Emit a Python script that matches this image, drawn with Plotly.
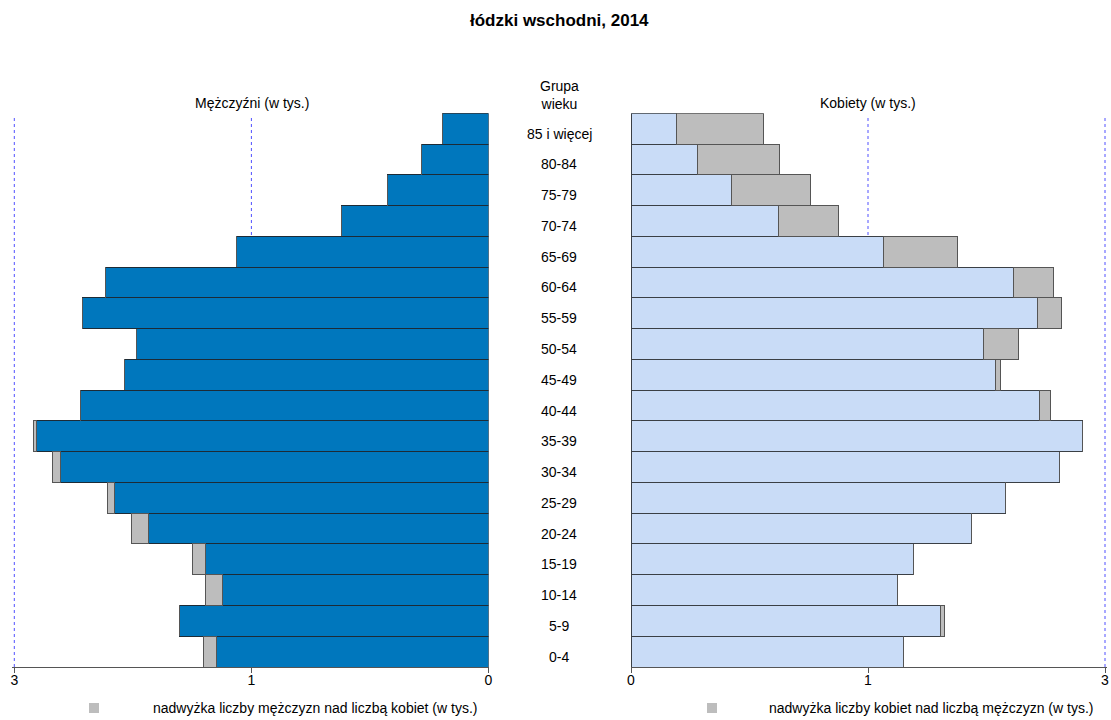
import plotly.graph_objects as go

title_text = "łódzki wschodni, 2014"
age_groups = ["0-4", "5-9", "10-14", "15-19", "20-24", "25-29", "30-34", "35-39",
              "40-44", "45-49", "50-54", "55-59", "60-64", "65-69", "70-74",
              "75-79", "80-84", "85 i więcej"]
# thousands of persons
male = [1.805, 1.956, 1.789, 1.873, 2.260, 2.409, 2.760, 2.880, 2.583, 2.306,
        2.229, 2.571, 2.423, 1.595, 0.932, 0.637, 0.423, 0.289]
female = [1.722, 1.984, 1.685, 1.788, 2.152, 2.369, 2.710, 2.860, 2.658, 2.337,
          2.451, 2.726, 2.677, 2.068, 1.315, 1.139, 0.943, 0.837]
tick_vals = [3, 1.5, 0]
tick_text = ["3", "1", "0"]
grid_vals = [3, 1.5]
legend_male = "nadwyżka liczby mężczyzn nad liczbą kobiet (w tys.)"
legend_female = "nadwyżka liczby kobiet nad liczbą mężczyzn (w tys.)"

common = [min(m, f) for m, f in zip(male, female)]
male_excess = [max(m - f, 0) for m, f in zip(male, female)]
female_excess = [max(f - m, 0) for m, f in zip(male, female)]

BLUE = "#0077bd"
LIGHT = "#c9dcf7"
GRAY = "#bdbdbd"
FONT = "Liberation Sans, Arial, sans-serif"
OFF = 0  # page body margin is removed below
W, H = 1111, 720
PXU = 158.0            # pixels per thousand
PAD = 2.0              # small extra room past the last tick (px)
XMAX = 3 + PAD / PXU


def px(x):
    return (x - OFF) / W


def py(y):
    return 1 - (y - OFF) / H


fig = go.Figure()
fig.add_trace(go.Bar(y=age_groups, x=common, orientation="h", xaxis="x", yaxis="y",
                     marker=dict(color=BLUE, line=dict(color="#1d2b36", width=1)),
                     showlegend=False, name="Mężczyźni"))
fig.add_trace(go.Bar(y=age_groups, x=male_excess, orientation="h", xaxis="x", yaxis="y",
                     marker=dict(color=GRAY, line=dict(color="#555555", width=1)),
                     name=legend_male, showlegend=False))
fig.add_trace(go.Bar(y=age_groups, x=common, orientation="h", xaxis="x2", yaxis="y2",
                     marker=dict(color=LIGHT, line=dict(color="#3a3f45", width=1)),
                     showlegend=False, name="Kobiety"))
fig.add_trace(go.Bar(y=age_groups, x=female_excess, orientation="h", xaxis="x2", yaxis="y2",
                     marker=dict(color=GRAY, line=dict(color="#555555", width=1)),
                     name=legend_female, showlegend=False))

ydom = [py(667), py(113.3)]
axis_common = dict(tickvals=tick_vals, ticktext=tick_text, showgrid=False,
                   zeroline=False, automargin=False,
                   showline=True, linecolor="#555555", linewidth=1,
                   ticks="outside", ticklen=5, tickcolor="#555555",
                   ticklabelstandoff=-5,
                   tickfont=dict(size=14, color="#000000", family=FONT),
                   fixedrange=True)
fig.update_layout(
    width=W, height=H, autosize=False,
    margin=dict(l=0, r=0, t=0, b=0, pad=0),
    paper_bgcolor="white", plot_bgcolor="white",
    barmode="stack", bargap=0, showlegend=False,
    font=dict(family=FONT, size=14, color="#000000"),
    xaxis=dict(domain=[px(14.3 - PAD), px(488.5)], range=[XMAX, 0], anchor="y",
               **axis_common),
    xaxis2=dict(domain=[px(631), px(1105 + PAD)], range=[0, XMAX], anchor="y2",
                **axis_common),
    yaxis=dict(domain=ydom, showticklabels=False, showgrid=False, zeroline=False,
               showline=False, ticks="", anchor="x", automargin=False),
    yaxis2=dict(domain=ydom, showticklabels=False, showgrid=False, zeroline=False,
                showline=False, ticks="", anchor="x2", matches="y", automargin=False),
)

shapes = []
for xr in ["x", "x2"]:
    for gv in grid_vals:
        shapes.append(dict(type="line", xref=xr, yref="paper", x0=gv, x1=gv,
                           y0=ydom[0], y1=py(116), layer="below",
                           line=dict(color="#5050ff", width=1, dash="dot")))
# legend swatches
for cx in [94, 712]:
    shapes.append(dict(type="rect", xref="paper", yref="paper",
                       x0=px(cx - 5), x1=px(cx + 5),
                       y0=py(713), y1=py(703),
                       fillcolor=GRAY, line=dict(width=0)))

annotations = [
    dict(text="<b>" + title_text + "</b>", x=px(559), y=py(20), xref="paper",
         yref="paper", showarrow=False, font=dict(size=17), xanchor="center", yanchor="middle"),
    dict(text="Mężczyźni (w tys.)", x=px(251.5), y=py(103), xref="paper",
         yref="paper", showarrow=False, font=dict(size=14), xanchor="center", yanchor="middle"),
    dict(text="Kobiety (w tys.)", x=px(867.5), y=py(103), xref="paper",
         yref="paper", showarrow=False, font=dict(size=14), xanchor="center", yanchor="middle"),
    dict(text="Grupa<br>wieku", x=px(559), y=py(95), xref="paper",
         yref="paper", showarrow=False, font=dict(size=14), xanchor="center", yanchor="middle"),
    dict(text=legend_male, x=px(151), y=py(708), xref="paper", yref="paper",
         showarrow=False, font=dict(size=14), xanchor="left", yanchor="middle"),
    dict(text=legend_female, x=px(767), y=py(708), xref="paper", yref="paper",
         showarrow=False, font=dict(size=14), xanchor="left", yanchor="middle"),
]
for ag in age_groups:
    annotations.append(dict(text=ag, x=px(559), y=ag, xref="paper", yref="y",
                            showarrow=False, font=dict(size=14), xanchor="center",
                            yanchor="middle", yshift=-5))
fig.update_layout(annotations=annotations, shapes=shapes)

fig.write_html("out.html",
               config={"displayModeBar": False, "staticPlot": True},
               post_script="document.body.style.margin='0';"
                           "document.body.style.overflow='hidden';")
